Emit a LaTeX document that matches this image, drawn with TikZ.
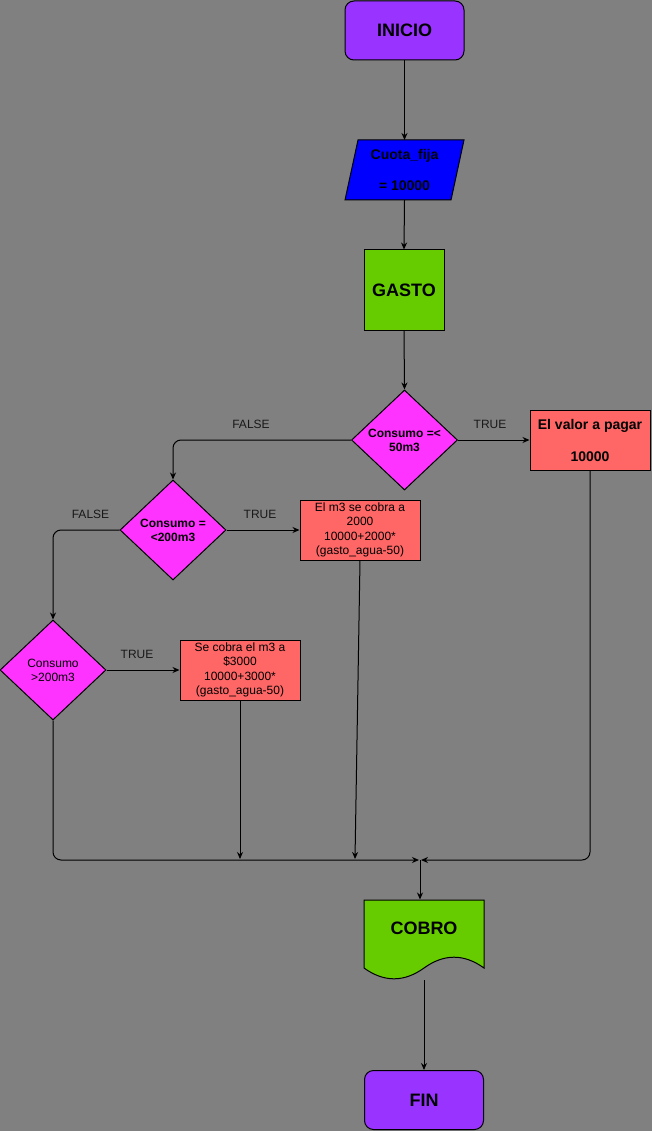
\documentclass[tikz,border=0pt]{standalone}
\usepackage{fontspec}
\setmainfont{Liberation Sans}
\usetikzlibrary{shapes.geometric,arrows.meta}
\definecolor{bg}{HTML}{808080}
\definecolor{purp}{HTML}{9933FF}
\definecolor{blu}{HTML}{0000FF}
\definecolor{grn}{HTML}{66CC00}
\definecolor{mag}{HTML}{FF33FF}
\definecolor{red6}{HTML}{FF6666}
\begin{document}
\begin{tikzpicture}[x=1pt,y=-1pt,
  line width=1pt,
  arr/.style={draw=black,-{Stealth[length=7pt,width=6pt]}},
  ln/.style={draw=black},
  term/.style={draw=black,fill=purp,rounded corners=9pt,minimum width=119pt,minimum height=59pt,inner sep=0pt,font=\fontsize{18}{21}\selectfont\bfseries},
  proc/.style={draw=black,fill=red6,minimum width=120pt,minimum height=60pt,inner sep=0pt,align=center,font=\fontsize{12}{14.3}\selectfont},
  dec/.style={diamond,draw=black,fill=mag,minimum width=106pt,minimum height=100pt,inner sep=0pt,align=center,font=\fontsize{12}{14}\selectfont},
  lbl/.style={font=\fontsize{12}{14}\selectfont,text=black!90,inner sep=0pt}
]
\fill[bg] (0,0) rectangle (652,1131);
\useasboundingbox (0,0) rectangle (652,1131);

% start
\node[term] (inicio) at (404.5,30.5) {INICIO};

% input parallelogram
\filldraw[fill=blu,draw=black] (358,140) -- (464,140) -- (451,200) -- (345,200) -- cycle;
\node[minimum width=106pt,minimum height=60pt,inner sep=0pt,align=center,font=\fontsize{14}{15.5}\selectfont\bfseries] (cuota) at (404.5,170) {Cuota\_fija\\[15.5pt]= 10000};

% gasto
\node[draw=black,fill=grn,minimum width=80pt,minimum height=80pt,inner sep=0pt,font=\fontsize{18}{21}\selectfont\bfseries] (gasto) at (404,290) {GASTO};

% decisions
\node[dec,font=\fontsize{12}{14}\selectfont\bfseries] (d1) at (404.5,440) {Consumo =<\\50m3};
\node[dec,font=\fontsize{12}{14}\selectfont\bfseries] (d2) at (173,530) {Consumo =\\<200m3};
\node[dec] (d3) at (53,670) {Consumo\\>200m3};

% process boxes
\node[proc,font=\fontsize{14}{16}\selectfont\bfseries] (b1) at (590,440) {El valor a pagar\\[16pt]10000};
\node[proc] (b2) at (360,530) {El m3 se cobra a\\2000\\10000+2000*\\(gasto\_agua-50)};
\node[proc] (b3) at (240,670) {Se cobra el m3 a\\\$3000\\10000+3000*\\(gasto\_agua-50)};

% document COBRO
\node[minimum width=120pt,minimum height=56pt,inner sep=0pt,font=\fontsize{18}{21}\selectfont\bfseries] (cobro) at (424,928) {};
\filldraw[fill=grn,draw=black] (364,900) -- (484,900) -- (484,968)
  .. controls (464,953.6) and (444,953.6) .. (424,968)
  .. controls (404,982.4) and (384,982.4) .. (364,968) -- cycle;
\node[font=\fontsize{18}{21}\selectfont\bfseries,inner sep=0pt] (cobrotxt) at (cobro.center) {COBRO};
\coordinate (cobrob) at (424,980);

% end
\node[term] (fin) at (424,1100) {FIN};

% merge point
\coordinate (m) at (420,860);
\coordinate (mL) at (419,860);
\coordinate (mR) at (421,860);
\coordinate (b2end) at (355,859);
\coordinate (b3end) at (240,859);

% connectors
\draw[arr] (inicio.south) -- (404.5,140);
\draw[arr] (404.5,200) -- (gasto.north);
\draw[arr] (gasto.south) -- (d1.north);
\draw[arr,rounded corners=8pt] (d1.west) -| (d2.north);
\draw[arr] (d1.east) -- (b1.west);
\draw[arr,rounded corners=8pt] (d2.west) -| (d3.north);
\draw[arr] (d2.east) -- (b2.west);
\draw[arr] (d3.east) -- (b3.west);
\draw[arr,rounded corners=8pt] (d3.south) |- (mL);
\draw[arr] (b3.south) -- (b3end);
\draw[arr] (b2.south) -- (b2end);
\draw[arr,rounded corners=8pt] (b1.south) |- (mR);
\draw[arr] (m) -- (m |- cobro.north);
\draw[arr] (cobrob) -- (fin.north);

% labels
\node[lbl] (f1) at (251,424.5) {FALSE};
\node[lbl] (t1) at (490,424.5) {TRUE};
\node[lbl] (f2) at (90.5,514.5) {FALSE};
\node[lbl] (t2) at (260,514.5) {TRUE};
\node[lbl] (t3) at (137,654.5) {TRUE};
\end{tikzpicture}
\end{document}
